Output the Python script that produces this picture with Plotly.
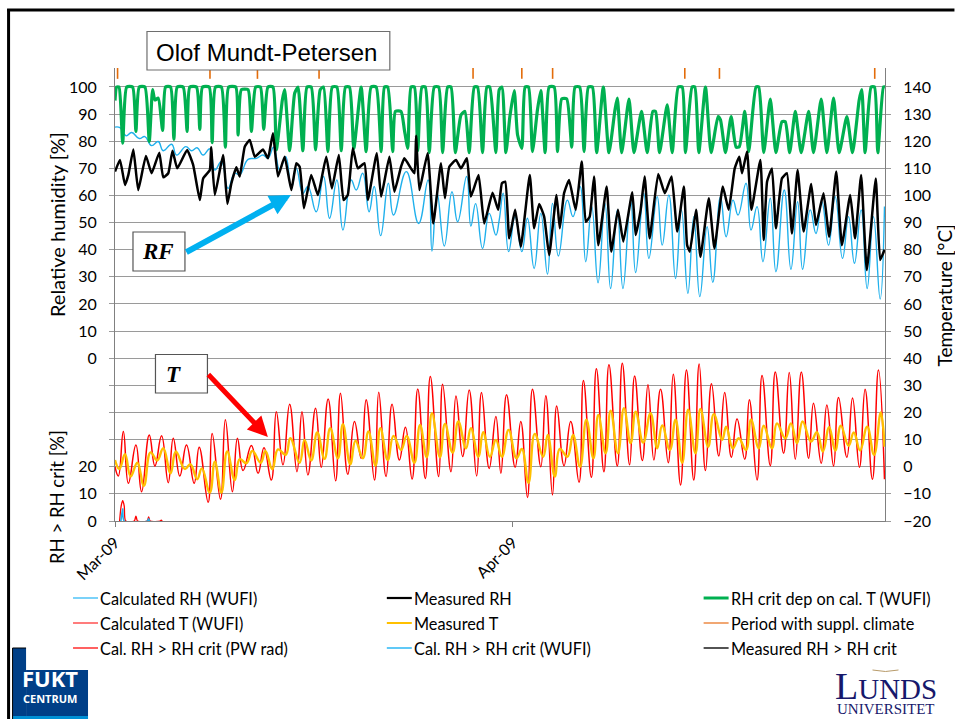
import pandas as pd
import plotly.graph_objects as go

START = pd.Timestamp("2009-03-01")
END = pd.Timestamp("2009-04-30")

calc_rh_days = [0,.39,.86,1.3,1.89,2.33,2.85,3.37,3.76,4.41,4.8,5.52,5.96,6.4,6.87,7.39,7.78,8.29,8.81,9.33,9.72,10.37,11.02,11.53,11.92,12.36,12.83,13.3,13.74,14.13,14.64,15.03,15.68,16.25,16.72,17.29,17.76,18.4,18.8,19.3,19.8,20.2,20.7,21.3,21.7,22.7,23.66,24.4,24.7,25.1,25.66,26.26,26.7,27.4,27.73,28.1,28.64,29.16,29.68,29.94,30.25,30.67,31.18,31.7,32.14,32.66,33.18,33.7,34.09,34.55,35.25,35.69,36.24,36.68,37.15,37.64,38.18,38.62,39.14,39.58,40.18,40.57,41.2,41.6,42.25,42.64,43.16,43.68,44.14,44.64,45.1,45.57,46.14,46.58,47.18,47.62,48.16,48.55,49.17,49.56,50.03,50.49,51.06,51.5,52.15,52.67,53.19,53.58,54.18,54.62,55.08,55.6,56.12,56.69,57.16,57.62,58.14,58.61,59.1,59.62,59.96]
calc_rh = [85.2,85,82,83.2,81,81.7,78.4,79.9,76.5,78.9,74.9,78,76.5,77.6,74.9,77.2,69.4,72.5,62.6,68.2,67.6,73.3,73.7,74.9,73.7,77.8,69.4,74.3,62.6,70,60.8,63.3,54,67,51.6,65.7,47.3,65.7,62,68.2,54,63.3,45.2,64.5,52.8,68.8,49.7,65.7,39.5,60.8,41.4,61.4,50.3,67,48.7,57,40.5,53.4,45.4,51,60.8,39.3,52.2,39.3,51.6,33.1,53.4,31,57.1,37.7,58.3,52.2,63.3,35.6,55.9,27.8,57.1,25.7,54.7,25.7,58.3,31.6,60.8,36.8,59.6,41.7,60.2,29.4,54.7,23.9,52.2,22.7,48.5,28,59.6,44.8,58.3,52.8,64.5,47.3,55.9,35.6,59,31.9,62,32.8,57.7,32.8,54.7,46,57.7,41.7,59.6,36.8,52.2,35,54.7,25.7,52.2,21.8,55.9]

meas_rh_days = [0,.39,.78,1.04,1.43,1.81,2.41,2.85,3.45,3.76,4.15,4.48,4.85,5.62,6.09,6.61,6.87,7.39,7.49,7.78,8.42,8.76,9.07,9.46,9.72,10.11,10.5,10.89,11.53,11.92,12.31,12.7,13.22,13.74,14.13,14.39,14.72,15.29,15.81,16.46,16.9,17.44,17.81,18.14,18.53,18.92,19.44,19.7,20.4,20.74,21.38,21.77,22.29,22.55,23.33,23.46,23.72,24.36,24.8,25.4,25.71,26.05,26.57,26.96,27.42,27.73,28.33,28.77,29.42,29.86,30.15,30.41,30.72,31.18,31.62,32.32,32.66,33.05,33.44,33.83,34.4,34.66,34.99,35.38,35.9,36.37,36.68,36.99,37.33,37.66,38.31,38.67,39.19,39.61,40.31,40.57,40.96,41.27,41.66,42.33,42.85,43.37,43.81,44.33,44.58,44.79,45.28,45.62,46.27,46.71,47.36,47.82,48.29,48.65,48.86,49.25,49.59,50.29,50.55,50.81,51.19,51.5,51.97,52.36,52.75,53.19,53.66,54.25,54.62,55.21,55.65,56.2,56.64,57.29,57.67,58.14,58.58,59.28,59.62,59.96]
meas_rh = [68.8,73.1,63.9,67.6,77,62,74.6,68.2,75.8,66.7,68.2,76.5,70,76.8,71.3,58.3,66.3,69.4,77.8,60.2,74.9,56.9,64.5,70.4,67,78,80.5,74.3,77,73.7,82.9,67,74.3,62,71.9,70.6,55.3,67.6,60.2,74.3,62.6,74.9,58.3,60.2,77.4,70,71.9,58.3,75.6,59.6,74.3,61.4,70.6,73.7,68.2,82,62,75.6,49.7,71.9,59,70.6,73.1,70,73.7,59.6,67.6,49.7,61,54.7,64.5,65.1,44.2,54.7,41.1,67.6,47.9,56.9,52.2,38,60.2,47.9,60.8,65.7,54.7,72.5,50.3,52.2,67,41.7,63.3,39.3,54.7,43,61.2,45.4,54.7,67,44.2,67.9,60.8,67,46.7,63.3,41.7,39.3,54.7,37.4,59,40.5,63.3,54.7,70,74.3,68.2,76.2,54.7,73.1,43.6,65.1,70,47.9,66.3,68.2,46,69.4,46.7,64.2,49.1,60.8,44.8,68.8,41.7,60.2,44.2,67.6,32.5,66.3,36.2,40]

crit_rh_days = [0,.13,.31,.6,.91,1.37,1.63,1.89,2.33,2.67,2.93,3.11,3.37,3.71,3.94,4.33,4.59,4.85,5.31,5.62,5.83,6.35,6.61,6.82,7.34,7.57,7.83,8.29,8.6,8.86,9.41,9.59,9.85,10.37,10.63,10.96,11.33,11.59,11.92,12.31,12.57,13.04,13.22,13.61,14,14.26,14.64,14.96,15.29,15.63,15.99,16.25,16.59,16.93,17.29,17.63,17.96,18.27,18.61,19.18,19.57,19.96,20.35,20.74,21,21.25,21.64,21.85,22.29,22.55,22.81,23.07,23.33,23.59,23.92,24.18,24.49,24.88,25.22,25.53,25.92,26.18,26.52,26.96,27.27,27.6,28,28.25,28.64,28.98,29.2,29.68,29.94,30.15,30.46,30.77,31.11,31.37,31.7,31.96,32.22,32.53,32.92,33.18,33.52,33.83,34.22,34.48,34.81,35.2,35.59,35.85,36.21,36.55,36.89,37.2,37.53,38.05,38.49,38.96,39.14,39.48,40.05,40.44,41.03,41.47,41.91,42.12,42.43,43.03,43.42,43.89,44.2,44.45,44.97,45.18,45.49,46.01,46.45,46.99,47.18,47.57,48.01,48.4,48.65,49.07,49.38,49.95,50.16,50.55,51.06,51.5,51.97,52.23,52.57,53.01,53.47,54.05,54.43,55.03,55.47,55.99,56.43,57.03,57.47,57.99,58.19,58.45,58.92,59.18,59.44,59.88,60]
crit_rh = [95,100,100,79.3,100,100,83.6,100,100,79.9,99,95.2,95.9,84,100,100,80.7,100,100,83.6,100,100,84.4,100,100,79.5,100,100,77.8,100,100,82.3,99,99,83.6,100,100,84.4,100,100,76.8,95.2,99,76.5,97.7,100,76.5,100,100,76.8,99,100,76.2,100,100,76.5,100,100,77.4,100,76.2,100,100,76.2,100,100,76.2,91,91,84.2,77.4,100,100,76.5,100,100,75.8,100,100,75.8,100,100,75.8,89.7,91,75.8,100,100,75.8,100,100,75.8,99,100,75.8,89.1,98.7,82.3,77.4,100,100,76.2,91.6,98.7,75.8,100,100,76.2,95.6,95.6,77.8,100,100,76.2,100,100,75.8,100,75.8,91.6,95.9,75.8,95.5,75.8,91,75.8,91,91,75.8,93.4,75.8,100,100,75.8,100,100,75.8,100,75.8,89.1,87.9,75.8,89.1,77.8,78,91,76.2,100,100,75.8,95.5,75.8,87.2,87.2,75.8,91,75.8,91,75.8,95.5,75.8,95.9,75.8,89.1,75.8,95.2,99,75.8,100,100,75.8,100,100]

calc_t_days = [0,.26,.65,1.04,1.63,2.07,2.67,3.11,3.63,4.15,4.54,5.05,5.57,6.17,6.56,7.26,7.57,8.22,8.6,9.15,9.54,9.98,10.63,11.15,11.61,12.18,12.57,13.09,13.61,14.18,14.57,15.03,15.63,16.07,16.61,17.19,17.57,18.14,18.66,19.18,19.57,20.22,20.55,21.12,21.59,22.16,22.63,23.15,23.59,24.18,24.57,25.22,25.53,26.18,26.57,27.09,27.6,28.18,28.56,29.16,29.68,30.07,30.51,31.18,31.62,32.14,32.53,33.18,33.57,34.09,34.42,34.99,35.51,36.16,36.5,37.12,37.51,38.1,38.49,39.14,39.53,40.1,40.49,41.09,41.53,41.99,42.51,43.11,43.5,44.07,44.53,45.1,45.52,46.01,46.48,47.05,47.51,48.03,48.47,49.07,49.43,50.03,50.42,51.06,51.45,52.1,52.54,53.01,53.48,54.05,54.43,55.03,55.47,55.99,56.38,57.03,57.47,58.01,58.45,59.02,59.49,59.96]
calc_t = [0,-3.4,13,-6.1,8,-9.2,11.7,.3,11.4,-5.9,10.5,-3.4,8,-6.1,7.2,-13.1,12.3,-12,17.3,-9.2,10.5,-1.4,7.8,-2.4,7,-4.9,20.3,.7,23,-1.8,20.3,-3,21.6,-.2,25,-5.2,27.1,-2.8,16.7,3.1,24.7,-4.9,27.5,-3.6,23,2.5,14.6,-4.5,28.7,-4.3,33.3,-3.6,30.4,-1.8,26.1,3.8,28.3,-3.4,27.4,-.6,18.5,-2.4,26.5,-.2,16.7,-11.3,28.6,0,26.2,-10.4,22.4,.4,16.7,-5.7,31.8,-3.9,36.1,-1.8,37.6,.3,38.2,.7,33.5,2.3,30.2,2.5,28.6,1.5,34.1,-6.7,35.7,-4.9,37.9,-1.4,30.6,4,27.4,3.5,17.6,2.8,24.7,-4.9,33.6,.4,34.9,5,34.7,2.8,34.9,3.1,23.4,1.3,22.8,.3,25.5,3.5,25.3,-.2,28.6,-4.6,35.7,-4.6]

meas_t_days = [0,.34,.78,1.22,1.74,2.25,2.77,3.29,3.76,4.33,4.74,5.44,5.88,6.4,6.77,7.39,7.78,8.29,8.74,9.33,9.72,10.24,10.7,11.35,11.72,12.26,12.7,13.3,13.66,14.39,14.77,15.29,15.76,16.33,16.77,17.37,17.76,18.33,18.74,19.31,19.75,20.3,20.68,21.25,21.7,22.29,22.73,23.33,23.77,24.29,24.7,25.32,25.71,26.31,26.75,27.35,27.73,28.31,28.69,29.21,29.68,30.15,30.67,31.29,31.7,32.22,32.71,33.36,33.72,34.27,34.66,35.25,35.69,36.24,36.73,37.28,37.66,38.23,38.62,39.19,39.66,40.18,40.57,41.16,41.73,42.25,42.64,43.24,43.68,44.2,44.66,45.23,45.62,46.22,46.66,47.31,47.62,48.14,48.6,49.17,49.56,50.16,50.55,51.19,51.58,52.23,52.67,53.14,53.58,54.23,54.69,55.16,55.65,56.12,56.56,57.16,57.57,58.06,58.61,59.15,59.67,59.96]
meas_t = [2.5,-.8,4.6,-3.6,1.5,-7,5.3,2.3,6.8,-2.4,5.6,-.8,.9,-4.6,-.6,-9.5,1.9,-9.5,5.6,-4.9,2.8,1.3,5.8,1.5,5.8,-.9,6.4,4.4,10.5,1.5,9.9,2.3,12.6,2.9,14.2,3.1,15.7,.9,9.6,3.1,13,.4,14.2,2.5,11.4,6.2,11.4,1.5,15.4,3.5,19.7,3.5,15.8,5.2,16.7,6.8,14.2,3.7,12.7,3.7,9.9,3.7,13.6,3.1,6.6,-5.9,12.1,3.7,11.7,-3.6,6.6,3.7,11.7,0,17.3,3.1,19.1,5,20.7,5,21.6,8.7,20.3,8.9,19.7,6.8,15.2,6.2,17.3,1.5,21,5,21.3,7.4,19.4,9.9,14.8,6.8,10.5,6.2,17.3,6.8,15.1,6.8,16,10.5,16,8.7,16.7,9.3,12.7,5.6,14.6,6,15.1,7.7,12.6,6,14.8,4.4,20,7.4]

suppl_days = [.2,7.4,11.1,15.9,27.9,31.7,34.1,44.4,47.1,59.2]
suppl_low = 143
suppl_high = 147

exceed_pw_days = [.36,.48,.6,.72,.84,1.5,1.63,1.76,2.5,2.62,2.74,3.52,3.6,3.68]
exceed_pw = [0,5.5,7.5,5.5,0,0,1.8,0,0,1.5,0,0,.3,0]
exceed_wufi_days = [.46,.6,.72,2.55,2.62,2.7]
exceed_wufi = [0,4.5,0,0,.8,0]

x_tick_dates = ["2009-03-01", "2009-04-01"]
x_tick_labels = ["Mar-09", "Apr-09"]
rh_ticks = [0, 10, 20, 30, 40, 50, 60, 70, 80, 90, 100]
exceed_ticks = [0, 10, 20]
temp_ticks = [-20, -10, 0, 10, 20, 30, 40, 50, 60, 70, 80, 90, 100, 110, 120, 130, 140]

FONT = "Lato"
W, H = 955, 719
L, R, T, B = 115, 885.5, 68, 521


def dates(days):
    return [START + pd.to_timedelta(d, unit="D") for d in days]


def px(x):
    return (x - L) / (R - L)


def py(y):
    return (B - y) / (B - T)


fig = go.Figure()
fig.add_trace(go.Scatter(x=dates(calc_rh_days), y=calc_rh, name="Calculated RH (WUFI)", yaxis="y2", mode="lines",
                         line=dict(color="#1FB0EC", width=1.4, shape="spline", smoothing=1.3)))
fig.add_trace(go.Scatter(x=dates(crit_rh_days), y=crit_rh, name="RH crit dep on cal. T (WUFI)", yaxis="y2", mode="lines",
                         line=dict(color="#00B050", width=3.2, shape="spline", smoothing=0.55)))
fig.add_trace(go.Scatter(x=dates(meas_rh_days), y=meas_rh, name="Measured RH", yaxis="y2", mode="lines",
                         line=dict(color="#000000", width=2.5, shape="spline", smoothing=0.4)))
fig.add_trace(go.Scatter(x=dates(calc_t_days), y=calc_t, name="Calculated T (WUFI)", yaxis="y", mode="lines",
                         line=dict(color="#FF0000", width=1.5, shape="spline", smoothing=1.3)))
fig.add_trace(go.Scatter(x=dates(meas_t_days), y=meas_t, name="Measured T", yaxis="y", mode="lines",
                         line=dict(color="#FFC000", width=2.4, shape="spline", smoothing=1.2)))
s_x, s_y = [], []
for d in suppl_days:
    s_x += dates([d, d]) + [None]
    s_y += [suppl_low, suppl_high, None]
fig.add_trace(go.Scatter(x=s_x, y=s_y, name="Period with suppl. climate", yaxis="y", mode="lines",
                         line=dict(color="#E36C0A", width=1.6)))
fig.add_trace(go.Scatter(x=dates(exceed_pw_days), y=exceed_pw, name="Cal. RH > RH crit (PW rad)", yaxis="y3", mode="lines",
                         line=dict(color="#FF0000", width=1.3, shape="spline", smoothing=0.8)))
fig.add_trace(go.Scatter(x=dates(exceed_wufi_days), y=exceed_wufi, name="Cal. RH > RH crit (WUFI)", yaxis="y3", mode="lines",
                         line=dict(color="#1FB0EC", width=1.6, shape="spline", smoothing=0.8)))

legend_rows = [
    [("Calculated RH (WUFI)", "#4FC3F7", 1.5), ("Measured RH", "#000000", 2.2), ("RH crit dep on cal. T (WUFI)", "#00B050", 3)],
    [("Calculated T (WUFI)", "#FF5050", 1.5), ("Measured T", "#FFC000", 2), ("Period with suppl. climate", "#ED8A45", 1.5)],
    [("Cal. RH > RH crit (PW rad)", "#FF5050", 1.8), ("Cal. RH > RH crit (WUFI)", "#4FC3F7", 1.8), ("Measured RH > RH crit", "#404040", 1.8)],
]
legend_x = [73, 387, 704]
legend_y = [598, 623, 648]

shapes = []
ann = []


def line(x0, y0, x1, y1, color, width):
    shapes.append(dict(type="line", xref="paper", yref="paper", x0=px(x0), y0=py(y0), x1=px(x1), y1=py(y1),
                       line=dict(color=color, width=width)))


def rect(x0, y0, x1, y1, fill, border=None, width=1):
    shapes.append(dict(type="rect", xref="paper", yref="paper", x0=px(x0), y0=py(y0), x1=px(x1), y1=py(y1),
                       fillcolor=fill, line=dict(color=border or fill, width=width if border else 0)))


def text(x, y, s, size, color="#000000", family=FONT, anchor="center", angle=0):
    ann.append(dict(xref="paper", yref="paper", x=px(x), y=py(y), text=s, showarrow=False, xanchor=anchor,
                    yanchor="middle", textangle=angle, font=dict(size=size, color=color, family=family)))


for r, row in enumerate(legend_rows):
    for c, (label, color, width) in enumerate(row):
        line(legend_x[c], legend_y[r], legend_x[c] + 25, legend_y[r], color, width)
        text(legend_x[c] + 25, legend_y[r], label, 16.3, anchor="left")

# slide frame
line(7, 10, 955, 10, "#000000", 3)
line(8.5, 9, 8.5, 719, "#000000", 3)

# boxes
rect(147, 31.5, 390, 70, "#FFFFFF", "#6E6E6E", 1.2)
text(267, 52, "Olof Mundt-Petersen", 24, family="Liberation Sans")
rect(133, 232, 185, 271, "#FFFFFF", "#555555", 1.2)
text(158, 252, "<b><i>RF</i></b>", 23, family="Liberation Serif")
rect(155.5, 354.5, 207.5, 393, "#FFFFFF", "#555555", 1.2)
text(174, 374, "<b><i>T</i></b>", 23, family="Liberation Serif")

# arrows
ann.append(dict(xref="paper", yref="paper", x=px(291), y=py(195), axref="pixel", ayref="pixel", ax=-106, ay=58,
                showarrow=True, arrowhead=2, arrowsize=0.7, arrowwidth=6, arrowcolor="#00B0F0", text=""))
ann.append(dict(xref="paper", yref="paper", x=px(268), y=py(437), axref="pixel", ayref="pixel", ax=-61, ay=-64,
                showarrow=True, arrowhead=2, arrowsize=0.8, arrowwidth=5, arrowcolor="#FF0000", text=""))

# axis titles
text(57, 225, "Relative humidity [%]", 20, angle=-90)
text(57, 497, "RH &gt; RH crit [%]", 18.5, angle=-90)
text(945, 295, "Temperature [°C]", 19, angle=-90)

# logos
rect(12.5, 648, 26, 719, "#003F87")
rect(26, 670, 88, 719, "#003F87")
rect(12.5, 716, 88, 719, "#0090D5")
line(12.5, 648, 26, 648, "#000000", 1)
line(12.5, 648, 12.5, 719, "#000000", 1)
text(50, 678, "<b>FUKT</b>", 22, color="#FFFFFF", family="Open Sans")
text(50, 698, "<b>CENTRUM</b>", 11, color="#FFFFFF", family="Open Sans")
text(887, 686, '<span style="font-size:38px">L</span>UNDS', 29, color="#17186B", family="Liberation Serif")
text(887, 709, "UNIVERSITET", 15, color="#17186B", family="Liberation Serif")
shapes.append(dict(type="path", xref="paper", yref="paper",
                   path=f"M {px(873)} {py(670)} Q {px(886)} {py(673)} {px(899)} {py(670)}",
                   line=dict(color="#B89B6A", width=1)))

tick_font = dict(size=16, family=FONT, color="#000000")
grid = "#9A9A9A"
fig.update_layout(
    width=W, height=H, autosize=False, showlegend=False,
    paper_bgcolor="#FFFFFF", plot_bgcolor="#FFFFFF",
    margin=dict(l=L, r=W - R, t=T, b=H - B, pad=0),
    shapes=shapes, annotations=ann,
    xaxis=dict(type="date", range=[START, END], tickmode="array", tickvals=x_tick_dates, ticktext=x_tick_labels,
               tickangle=-45, ticks="outside", ticklen=5, tickcolor="#808080", showgrid=False, showline=True,
               linecolor="#808080", linewidth=1.2, tickfont=tick_font, zeroline=False),
    yaxis=dict(side="right", range=[-20, 147], tickmode="array", tickvals=temp_ticks, ticks="outside", ticklen=5,
               tickcolor=grid, tickwidth=1.3, showgrid=True, gridcolor=grid, gridwidth=1.3, showline=True,
               linecolor="#808080", linewidth=1.2, mirror="ticks", tickfont=tick_font, ticklabelstandoff=9, zeroline=False),
    yaxis2=dict(overlaying="y", side="left", range=[-60, 107], tickmode="array", tickvals=rh_ticks, ticks="outside",
                ticklen=5, tickcolor="rgba(0,0,0,0)", showgrid=False, showline=False, tickfont=tick_font,
                ticklabelstandoff=9, zeroline=False),
    yaxis3=dict(overlaying="y", side="left", range=[0, 167], tickmode="array", tickvals=exceed_ticks, ticks="outside",
                ticklen=5, tickcolor="rgba(0,0,0,0)", showgrid=False, showline=False, tickfont=tick_font,
                ticklabelstandoff=9, zeroline=False),
)
fig.write_html("out.html", post_script="document.body.style.margin='0';", config=dict(displayModeBar=False))
